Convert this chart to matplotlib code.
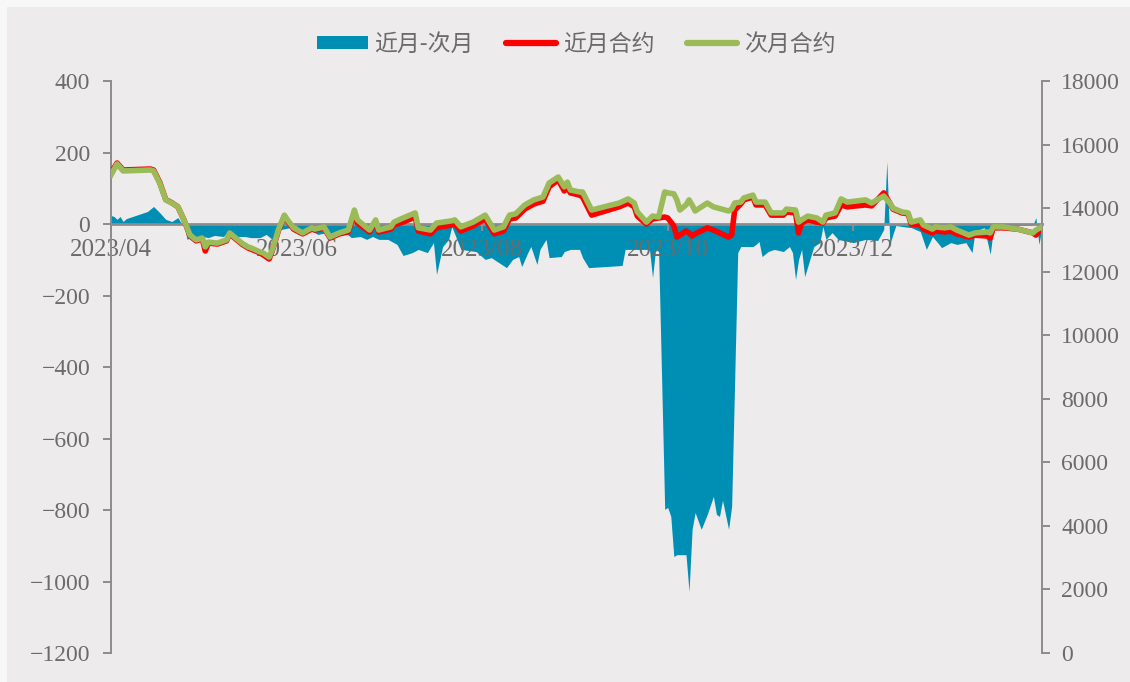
import matplotlib.pyplot as plt
import matplotlib.dates as mdates
import pandas as pd
from matplotlib.patches import Rectangle, Patch
from matplotlib.lines import Line2D

plt.rcParams['font.family'] = ['Liberation Serif', 'Noto Sans CJK SC']
plt.rcParams['axes.unicode_minus'] = True

TEAL = '#008FB4'
RED = '#FF0000'
GREEN = '#9BBB59'
AXIS = '#8C8C8C'
TEXT = '#6B6B6B'

# 合约价格（元/吨）
line_dates = [
    '2023-04-01', '2023-04-03', '2023-04-05', '2023-04-14', '2023-04-15', '2023-04-17',
    '2023-04-19', '2023-04-21', '2023-04-23', '2023-04-25', '2023-04-27', '2023-04-29',
    '2023-05-01', '2023-05-02', '2023-05-03', '2023-05-06', '2023-05-09', '2023-05-10',
    '2023-05-12', '2023-05-14', '2023-05-16', '2023-05-17', '2023-05-20', '2023-05-21',
    '2023-05-23', '2023-05-24', '2023-05-26', '2023-05-28', '2023-05-29', '2023-05-31',
    '2023-06-03', '2023-06-06', '2023-06-07', '2023-06-10', '2023-06-12', '2023-06-15',
    '2023-06-18', '2023-06-20', '2023-06-21', '2023-06-25', '2023-06-27', '2023-06-28',
    '2023-07-02', '2023-07-03', '2023-07-06', '2023-07-10', '2023-07-11', '2023-07-15',
    '2023-07-17', '2023-07-22', '2023-07-23', '2023-07-25', '2023-07-29', '2023-08-02',
    '2023-08-05', '2023-08-08', '2023-08-10', '2023-08-12', '2023-08-15', '2023-08-18',
    '2023-08-21', '2023-08-23', '2023-08-26', '2023-08-28', '2023-08-29', '2023-08-30',
    '2023-09-02', '2023-09-03', '2023-09-06', '2023-09-15', '2023-09-18', '2023-09-20',
    '2023-09-21', '2023-09-24', '2023-09-26', '2023-09-28', '2023-09-30', '2023-10-01',
    '2023-10-03', '2023-10-04', '2023-10-05', '2023-10-07', '2023-10-08', '2023-10-09',
    '2023-10-10', '2023-10-14', '2023-10-16', '2023-10-21', '2023-10-22', '2023-10-23',
    '2023-10-25', '2023-10-26', '2023-10-29', '2023-10-30', '2023-11-02', '2023-11-04',
    '2023-11-08', '2023-11-09', '2023-11-12', '2023-11-13', '2023-11-14', '2023-11-16',
    '2023-11-19', '2023-11-21', '2023-11-22', '2023-11-25', '2023-11-27', '2023-11-29',
    '2023-12-05', '2023-12-07', '2023-12-11', '2023-12-13', '2023-12-14', '2023-12-17',
    '2023-12-19', '2023-12-20', '2023-12-23', '2023-12-24', '2023-12-27', '2023-12-28',
    '2023-12-31', '2024-01-02', '2024-01-04', '2024-01-08', '2024-01-10', '2024-01-14',
    '2024-01-15', '2024-01-16', '2024-01-19', '2024-01-24', '2024-01-29', '2024-01-30',
    '2024-02-01',
]
near_price = [
    15110, 15420, 15200, 15230, 15200, 14820, 14270, 14170, 14040, 13630, 13120, 12970,
    13030, 12650, 12900, 12870, 12970, 13190, 13030, 12870, 12750, 12710, 12590, 12530,
    12400, 12650, 13280, 13750, 13600, 13340, 13190, 13340, 13310, 13380, 13060, 13190,
    13250, 13850, 13530, 13250, 13560, 13250, 13340, 13470, 13560, 13720, 13280, 13190,
    13380, 13470, 13500, 13280, 13440, 13660, 13190, 13280, 13660, 13690, 13970, 14130,
    14220, 14670, 14890, 14540, 14670, 14480, 14410, 14350, 13780, 14040, 14160, 14040,
    13750, 13500, 13660, 13690, 13720, 13690, 13440, 13090, 13150, 13280, 13220, 13120,
    13190, 13380, 13310, 13090, 13150, 13940, 14130, 14260, 14350, 14100, 14100, 13780,
    13780, 13880, 13850, 13220, 13530, 13630, 13560, 13530, 13690, 13750, 14100, 14040,
    14100, 14070, 14480, 14160, 13970, 13850, 13820, 13500, 13470, 13340, 13220, 13280,
    13250, 13280, 13190, 13090, 13150, 13120, 13060, 13380, 13380, 13340, 13220, 13150,
    13380,
]
far_price = [
    15040, 15390, 15170, 15200, 15170, 14790, 14260, 14160, 14040, 13630, 13150, 13000,
    13060, 12780, 12930, 12900, 13000, 13220, 13060, 12900, 12780, 12750, 12620, 12590,
    12460, 12680, 13310, 13780, 13630, 13380, 13220, 13380, 13340, 13410, 13090, 13220,
    13310, 13940, 13630, 13310, 13630, 13310, 13410, 13560, 13690, 13850, 13380, 13310,
    13530, 13600, 13630, 13410, 13560, 13780, 13310, 13410, 13780, 13820, 14100, 14260,
    14350, 14790, 14980, 14670, 14820, 14570, 14510, 14510, 13940, 14160, 14290, 14160,
    13880, 13560, 13750, 13720, 14510, 14480, 14450, 14260, 13940, 14100, 14260, 14100,
    13910, 14160, 14040, 13910, 13970, 14160, 14190, 14320, 14410, 14190, 14190, 13850,
    13850, 13970, 13940, 13560, 13630, 13750, 13690, 13560, 13780, 13850, 14290, 14190,
    14260, 14160, 14380, 14160, 14000, 13880, 13850, 13560, 13630, 13470, 13340, 13410,
    13380, 13410, 13310, 13150, 13220, 13250, 13220, 13410, 13410, 13340, 13220, 13310,
    13410,
]

# 近月-次月价差
spread_dates = [
    '2023-04-01', '2023-04-02', '2023-04-03', '2023-04-04', '2023-04-05', '2023-04-06',
    '2023-04-13', '2023-04-15', '2023-04-17', '2023-04-19', '2023-04-21', '2023-04-23',
    '2023-04-24', '2023-04-25', '2023-04-26', '2023-04-27', '2023-04-29', '2023-05-01',
    '2023-05-03', '2023-05-05', '2023-05-08', '2023-05-09', '2023-05-10', '2023-05-13',
    '2023-05-15', '2023-05-17', '2023-05-20', '2023-05-22', '2023-05-24', '2023-05-26',
    '2023-05-27', '2023-05-30', '2023-06-01', '2023-06-02', '2023-06-05', '2023-06-08',
    '2023-06-11', '2023-06-14', '2023-06-17', '2023-06-19', '2023-06-22', '2023-06-24',
    '2023-06-26', '2023-06-28', '2023-07-01', '2023-07-04', '2023-07-06', '2023-07-09',
    '2023-07-11', '2023-07-14', '2023-07-16', '2023-07-17', '2023-07-19', '2023-07-21',
    '2023-07-22', '2023-07-25', '2023-07-30', '2023-08-02', '2023-08-04', '2023-08-09',
    '2023-08-11', '2023-08-13', '2023-08-14', '2023-08-16', '2023-08-17', '2023-08-19',
    '2023-08-20', '2023-08-22', '2023-08-23', '2023-08-27', '2023-08-28', '2023-08-30',
    '2023-09-02', '2023-09-03', '2023-09-05', '2023-09-16', '2023-09-17', '2023-09-25',
    '2023-09-26', '2023-09-27', '2023-09-28', '2023-09-30', '2023-10-01', '2023-10-02',
    '2023-10-03', '2023-10-04', '2023-10-07', '2023-10-08', '2023-10-09', '2023-10-10',
    '2023-10-12', '2023-10-14', '2023-10-16', '2023-10-17', '2023-10-18', '2023-10-19',
    '2023-10-21', '2023-10-22', '2023-10-24', '2023-10-25', '2023-10-29', '2023-10-30',
    '2023-10-31', '2023-11-01', '2023-11-03', '2023-11-05', '2023-11-08', '2023-11-10',
    '2023-11-11', '2023-11-12', '2023-11-13', '2023-11-14', '2023-11-15', '2023-11-17',
    '2023-11-18', '2023-11-20', '2023-11-21', '2023-11-22', '2023-11-24', '2023-11-26',
    '2023-12-01', '2023-12-05', '2023-12-09', '2023-12-11', '2023-12-12', '2023-12-13',
    '2023-12-14', '2023-12-15', '2023-12-17', '2023-12-20', '2023-12-23', '2023-12-25',
    '2023-12-27', '2023-12-29', '2023-12-30', '2024-01-02', '2024-01-04', '2024-01-07',
    '2024-01-09', '2024-01-10', '2024-01-13', '2024-01-15', '2024-01-16', '2024-01-18',
    '2024-01-25', '2024-01-29', '2024-01-30', '2024-01-31', '2024-02-01',
]
spread = [
    24, 21, 13, 21, 7, 15, 35, 49, 32, 13, 7, 18,
    4, -1, -43, -38, -35, -35, -38, -32, -35, -24, -32, -35,
    -35, -38, -38, -29, -43, -21, -15, -10, -4, -24, -15, -29,
    -24, -38, -24, -38, -35, -43, -35, -43, -43, -57, -88, -80,
    -71, -80, -52, -141, -63, -43, -7, -71, -77, -99, -94, -122,
    -99, -91, -119, -80, -63, -113, -71, -43, -94, -91, -77, -71,
    -71, -94, -122, -116, -71, -71, -150, -71, -77, -798, -793, -818,
    -930, -925, -925, -1028, -854, -807, -854, -812, -762, -812, -818, -773,
    -854, -790, -80, -63, -63, -57, -49, -91, -77, -71, -77, -63,
    -80, -155, -99, -71, -147, -91, -63, -52, -7, -43, -24, -43,
    -52, -43, -46, -15, 175, -57, -29, -4, -7, -10, -21, -71,
    -35, -55, -66, -52, -57, -52, -80, -21, -10, -85, -15, -7,
    -4, -4, 18, -57, -10,
]

x_ticks = ['2023-04-01', '2023-06-01', '2023-08-01', '2023-10-01', '2023-12-01']

ld = pd.to_datetime(line_dates)
sd = pd.to_datetime(spread_dates)

fig = plt.figure(figsize=(11.3, 6.82), dpi=100, facecolor='#F7F7F7')
fig.patches.append(Rectangle((7 / 1130, 0), 1, 1 - 7 / 682, transform=fig.transFigure,
                             facecolor='#EDEBEC', edgecolor='none', zorder=-10))

ax = fig.add_axes([0.0982, 0.0425, 0.8239, 0.8387])
ax.set_facecolor('none')
ax2 = ax.twinx()

ax.fill_between(sd, spread, 0, color=TEAL, linewidth=0, zorder=1)
ax.set_ylim(-1200, 400)
ax.set_yticks(range(-1200, 401, 200))
ax.set_xlim(pd.Timestamp('2023-04-01'), pd.Timestamp('2024-02-01'))
ax.set_xticks(pd.to_datetime(x_ticks))
ax.xaxis.set_major_formatter(mdates.DateFormatter('%Y/%m'))

ax.spines['top'].set_visible(False)
ax.spines['right'].set_visible(False)
ax.spines['bottom'].set_position(('data', 0))
ax.spines['bottom'].set_color(AXIS)
ax.spines['bottom'].set_linewidth(2)
ax.spines['bottom'].set_zorder(3)
ax.spines['left'].set_color(AXIS)
ax.spines['left'].set_linewidth(1.4)
ax.tick_params(axis='x', direction='out', length=5, width=1.4, color=AXIS,
               labelsize=18, labelcolor=TEXT, pad=6)
ax.tick_params(axis='y', direction='out', length=6, width=1.4, color=AXIS,
               labelsize=17, labelcolor=TEXT, pad=9)

ax2.plot(ld, near_price, color=RED, linewidth=4.0, solid_joinstyle='round', zorder=2)
ax2.plot(ld, far_price, color=GREEN, linewidth=4.0, solid_joinstyle='round', zorder=3)
ax2.set_ylim(0, 18000)
ax2.set_yticks(range(0, 18001, 2000))
for side in ['top', 'bottom', 'left']:
    ax2.spines[side].set_visible(False)
ax2.spines['right'].set_color(AXIS)
ax2.spines['right'].set_linewidth(1.4)
ax2.tick_params(axis='y', direction='out', length=6, width=1.4, color=AXIS,
                labelsize=17, labelcolor=TEXT, pad=8)

handles = [
    Patch(facecolor=TEAL, edgecolor='none'),
    Line2D([], [], color=RED, linewidth=4.5, solid_capstyle='round'),
    Line2D([], [], color=GREEN, linewidth=4.5, solid_capstyle='round'),
]
fig.legend(handles, ['近月-次月', '近月合约', '次月合约'], loc='center',
           bbox_to_anchor=(0.51, 0.935), ncol=3, frameon=False,
           prop={'family': ['Noto Sans CJK SC'], 'size': 16.5},
           labelcolor=TEXT, handlelength=2.2, handleheight=0.5,
           handletextpad=0.3, columnspacing=1.4)

fig.savefig('out.png', dpi=100, facecolor=fig.get_facecolor())
